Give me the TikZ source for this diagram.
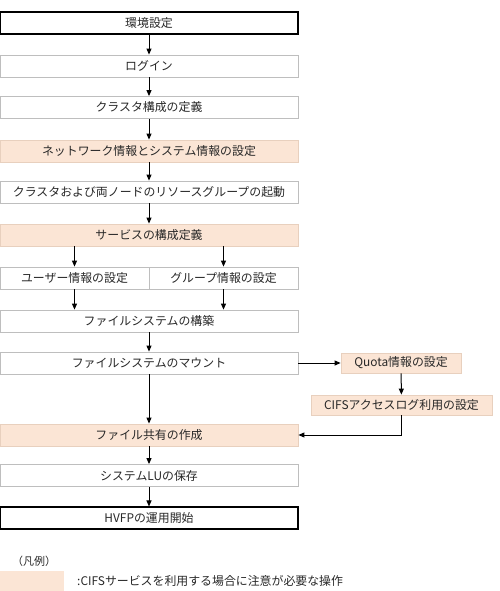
\documentclass[tikz,border=0pt]{standalone}
\usepackage{fontspec}
\usepackage{tikz}
\usetikzlibrary{arrows.meta}
\newfontfamily\jpfont{Noto Sans CJK JP}
\definecolor{peach}{RGB}{251,229,213}
\definecolor{peachline}{RGB}{232,208,190}
\definecolor{boxline}{RGB}{190,190,190}
\definecolor{inkgray}{RGB}{40,40,40}

\begin{document}
\begin{tikzpicture}[x=1pt, y=-1pt,
            >={Triangle[length=6pt, width=5pt]},
            box/.style={rectangle, minimum width=298pt, minimum height=22pt, inner sep=0pt,
                        font=\jpfont\fontsize{11.9pt}{13pt}\selectfont, text=inkgray},
            plain/.style={draw=boxline, line width=0.8pt, fill=white},
            caution/.style={draw=peachline, line width=0.8pt, fill=peach},
            milestone/.style={draw=black, line width=1.1pt, fill=white},
            half/.style={minimum width=149pt},
            flow/.style={->, line width=1pt, black}]

        \useasboundingbox (0,0) rectangle (500,591);

        % Nodes main flow
        \node[box, milestone] (env)        at (149, 23)    {環境設定};
        \node[box, plain]     (login)      at (149, 66)    {ログイン};
        \node[box, plain]     (clusterdef) at (149, 107.5) {クラスタ構成の定義};
        \node[box, caution]   (netcfg)     at (149, 151)   {ネットワーク情報とシステム情報の設定};
        \node[box, plain]     (rgstart)    at (149, 192)   {クラスタおよび両ノードのリソースグループの起動};
        \node[box, caution]   (svccfg)     at (149, 235)   {サービスの構成定義};
        \node[box, plain, half] (usercfg)  at (74.5, 278)  {ユーザー情報の設定};
        \node[box, plain, half] (groupcfg) at (223.5, 278) {グループ情報の設定};
        \node[box, plain]     (fsbuild)    at (149, 321)   {ファイルシステムの構築};
        \node[box, plain]     (fsmount)    at (149, 363)   {ファイルシステムのマウント};
        \node[box, caution]   (share)      at (149, 435)   {ファイル共有の作成};
        \node[box, plain]     (lusave)     at (149, 475.5) {システムLUの保存};
        \node[box, milestone] (opstart)    at (149, 518)   {HVFPの運用開始};

        % Nodes side branch
        \node[box, caution, minimum width=120pt, minimum height=20pt] (quota)   at (401, 363)   {Quota情報の設定};
        \node[box, caution, minimum width=181pt, minimum height=20pt] (cifslog) at (401.5, 405) {CIFSアクセスログ利用の設定};

        % Legend
        \node[font=\jpfont\fontsize{11pt}{12pt}\selectfont, text=inkgray, anchor=west, inner sep=0pt] (legendlabel) at (12, 561) {（凡例）};
        \node[box, fill=peach, minimum width=64pt, minimum height=20pt] (legendbox) at (32, 581) {};
        \node[font=\jpfont\fontsize{11.9pt}{13pt}\selectfont, text=inkgray, anchor=west, inner sep=0pt] (legendtext) at (77, 581) {:CIFSサービスを利用する場合に注意が必要な操作};

        % Connectors
        \draw[flow] (env) -- (login);
        \draw[flow] (login) -- (clusterdef);
        \draw[flow] (clusterdef) -- (netcfg);
        \draw[flow] (netcfg) -- (rgstart);
        \draw[flow] (rgstart) -- (svccfg);
        \foreach \dest in {usercfg, groupcfg} {
            \draw[flow] (svccfg.south -| \dest) -- (\dest);
            \draw[flow] (\dest) -- (fsbuild.north -| \dest);
        }
        \draw[flow] (fsbuild) -- (fsmount);
        \draw[flow] (fsmount) -- (share);
        \draw[flow] (share) -- (lusave);
        \draw[flow] (lusave) -- (opstart);

        \draw[flow] (fsmount) -- (quota);
        \draw[flow] (quota) -- (cifslog);
        \draw[flow] (cifslog.south) |- (share.east);
    \end{tikzpicture}
\end{document}
